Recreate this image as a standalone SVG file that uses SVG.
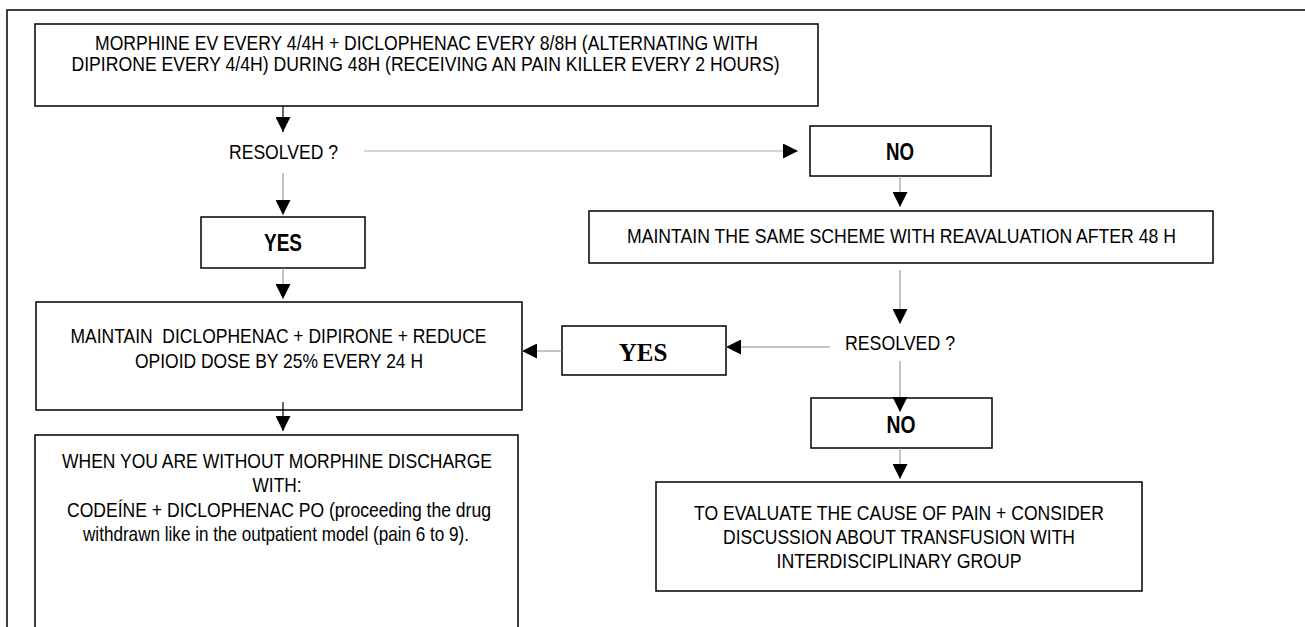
<svg xmlns="http://www.w3.org/2000/svg" width="1305" height="627" viewBox="0 0 1305 627">
  <defs>
    <marker id="head" markerUnits="userSpaceOnUse" markerWidth="15" markerHeight="15" refX="15" refY="7.5" orient="auto">
      <path d="M0,0 L15,7.5 L0,15 Z" fill="#000"/>
    </marker>
    <style>
      .box { fill: #fff; stroke: #000; stroke-width: 1.5; }
      .frame { fill: none; stroke: #000; stroke-width: 1.5; }
      .t { font-family: "Liberation Sans Narrow", "Liberation Sans", Arial, sans-serif; font-size: 21px; fill: #000; text-anchor: middle; }
      .tb { font-family: "Liberation Sans Narrow", "Liberation Sans", Arial, sans-serif; font-size: 24px; font-weight: bold; fill: #000; text-anchor: middle; }
      .ts { font-family: "Liberation Serif", "Times New Roman", serif; font-size: 25px; font-weight: bold; fill: #000; text-anchor: middle; }
      .c { fill: none; stroke: #8a8a8a; stroke-width: 1; marker-end: url(#head); }
      .cd { fill: none; stroke: #000; stroke-width: 1.2; marker-end: url(#head); }
      .cl { fill: none; stroke: #c8c8c8; stroke-width: 1.5; marker-end: url(#head); }
    </style>
  </defs>

  <rect width="1305" height="627" fill="#fff"/>

  <!-- page frame: top and left rules -->
  <path class="frame" d="M7,627 L7,10 L1305,10"/>

  <g id="start">
    <rect class="box" x="35" y="24" width="783" height="82"/>
    <text class="t" x="426.5" y="50" textLength="663" lengthAdjust="spacingAndGlyphs">MORPHINE EV EVERY 4/4H + DICLOPHENAC EVERY 8/8H (ALTERNATING WITH</text>
    <text class="t" x="425.5" y="71" textLength="708" lengthAdjust="spacingAndGlyphs">DIPIRONE EVERY 4/4H) DURING 48H (RECEIVING AN PAIN KILLER EVERY 2 HOURS)</text>
  </g>

  <g id="resolved-1">
    <text class="t" x="283.5" y="159" textLength="109" lengthAdjust="spacingAndGlyphs">RESOLVED ?</text>
  </g>

  <g id="no-1">
    <rect class="box" x="810" y="126" width="181" height="50"/>
    <text class="tb" x="900" y="160" textLength="28" lengthAdjust="spacingAndGlyphs">NO</text>
  </g>

  <g id="yes-1">
    <rect class="box" x="201" y="217" width="164" height="51"/>
    <text class="tb" x="283" y="251" textLength="38" lengthAdjust="spacingAndGlyphs">YES</text>
  </g>

  <g id="same-scheme">
    <rect class="box" x="589" y="211" width="624" height="52"/>
    <text class="t" x="901.5" y="243" textLength="549" lengthAdjust="spacingAndGlyphs">MAINTAIN THE SAME SCHEME WITH REAVALUATION AFTER 48 H</text>
  </g>

  <g id="resolved-2">
    <text class="t" x="900" y="350" textLength="110" lengthAdjust="spacingAndGlyphs">RESOLVED ?</text>
  </g>

  <g id="yes-2">
    <rect class="box" x="562" y="326" width="164" height="49"/>
    <text class="ts" x="643" y="361">YES</text>
  </g>

  <g id="reduce-opioid">
    <rect class="box" x="36" y="302" width="486" height="108"/>
    <text class="t" x="278.5" y="343" textLength="416" lengthAdjust="spacingAndGlyphs" xml:space="preserve">MAINTAIN  DICLOPHENAC + DIPIRONE + REDUCE</text>
    <text class="t" x="279" y="368" textLength="288" lengthAdjust="spacingAndGlyphs">OPIOID DOSE BY 25% EVERY 24 H</text>
  </g>

  <g id="no-2">
    <rect class="box" x="811" y="398" width="181" height="50"/>
    <text class="tb" x="901" y="433" textLength="29" lengthAdjust="spacingAndGlyphs">NO</text>
  </g>

  <g id="evaluate-cause">
    <rect class="box" x="656" y="482" width="486" height="109"/>
    <text class="t" x="899" y="520" textLength="410" lengthAdjust="spacingAndGlyphs">TO EVALUATE THE CAUSE OF PAIN + CONSIDER</text>
    <text class="t" x="899" y="544" textLength="352" lengthAdjust="spacingAndGlyphs">DISCUSSION ABOUT TRANSFUSION WITH</text>
    <text class="t" x="899" y="568" textLength="245" lengthAdjust="spacingAndGlyphs">INTERDISCIPLINARY GROUP</text>
  </g>

  <g id="discharge">
    <path class="box" d="M35,640 L35,435 L518,435 L518,640"/>
    <text class="t" x="277" y="468" textLength="430" lengthAdjust="spacingAndGlyphs">WHEN YOU ARE WITHOUT MORPHINE DISCHARGE</text>
    <text class="t" x="277" y="492" textLength="49" lengthAdjust="spacingAndGlyphs">WITH:</text>
    <text class="t" x="279" y="517" textLength="424" lengthAdjust="spacingAndGlyphs">CODEÍNE + DICLOPHENAC PO (proceeding the drug</text>
    <text class="t" x="276" y="541" textLength="386" lengthAdjust="spacingAndGlyphs">withdrawn like in the outpatient model (pain 6 to 9).</text>
  </g>

  <g id="connectors">
    <path class="cd" d="M283,106 L283,132"/>
    <path class="cl" d="M364,151 L798,151"/>
    <path class="c" d="M283,173 L283,215"/>
    <path class="c" d="M283,268 L283,299"/>
    <path class="c" d="M900,176 L900,207"/>
    <path class="c" d="M900,270 L900,324"/>
    <path class="c" d="M830,347 L726,347"/>
    <path class="c" d="M562,351 L522,351"/>
    <path class="c" d="M900,361 L900,412"/>
    <path class="c" d="M900,448 L900,479"/>
    <path class="cd" d="M283,402 L283,431"/>
  </g>
</svg>
